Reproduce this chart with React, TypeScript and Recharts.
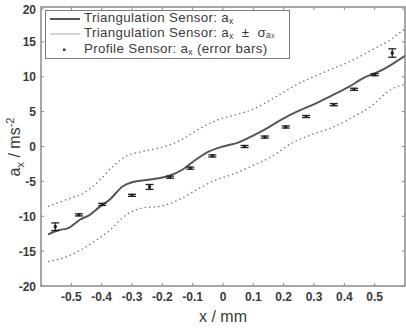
import React from 'react';
import { ComposedChart, Line, Scatter, ErrorBar, XAxis, YAxis, Legend, ReferenceArea } from 'recharts';

// Triangulation sensor mean a_x
const meanX = [-0.577, -0.543, -0.51, -0.472, -0.439, -0.411, -0.373, -0.33, -0.297, -0.253, -0.22, -0.177, -0.133, -0.09, -0.046, 0, 0.052, 0.096, 0.14, 0.194, 0.249, 0.303, 0.358, 0.413, 0.467, 0.522, 0.6];
const meanY = [-12.6, -12.0, -11.7, -10.5, -9.8, -8.8, -7.6, -5.7, -5.1, -4.8, -4.6, -4.2, -3.3, -1.9, -0.7, 0, 0.6, 1.5, 2.5, 3.9, 5.1, 6.1, 7.3, 8.5, 9.9, 10.9, 13.0];

// Triangulation sensor mean + sigma
const upperX = [-0.577, -0.515, -0.46, -0.406, -0.362, -0.319, -0.264, -0.21, -0.144, -0.079, -0.024, 0.031, 0.096, 0.162, 0.227, 0.293, 0.358, 0.424, 0.489, 0.555, 0.6];
const upperY = [-8.6, -7.6, -6.7, -4.8, -2.8, -1.4, -0.7, -0.2, 0.8, 2.5, 3.7, 4.4, 5.3, 6.8, 8.5, 9.9, 11.1, 12.3, 13.8, 15.4, 16.9];

// Triangulation sensor mean - sigma
const lowerX = [-0.577, -0.515, -0.472, -0.417, -0.373, -0.319, -0.264, -0.21, -0.144, -0.079, -0.024, 0.031, 0.096, 0.162, 0.227, 0.293, 0.358, 0.424, 0.489, 0.555, 0.6];
const lowerY = [-16.5, -15.8, -14.9, -13.4, -12.0, -9.8, -8.8, -8.6, -7.6, -6.0, -4.8, -4.0, -2.8, -1.4, 0.5, 1.7, 2.7, 4.1, 5.8, 8.2, 8.9];

// Profile sensor points with error bars
const profX = [-0.553, -0.475, -0.398, -0.3, -0.242, -0.175, -0.108, -0.035, 0.071, 0.138, 0.207, 0.274, 0.365, 0.432, 0.5, 0.558];
const profY = [-11.5, -9.8, -8.3, -7.0, -5.8, -4.4, -3.1, -1.35, 0.0, 1.35, 2.8, 4.3, 6.0, 8.2, 10.3, 13.4];
const profErr = [0.55, 0.15, 0.15, 0.15, 0.35, 0.15, 0.15, 0.15, 0.15, 0.15, 0.15, 0.15, 0.15, 0.15, 0.15, 0.6];

const xTicks = [-0.5, -0.4, -0.3, -0.2, -0.1, 0, 0.1, 0.2, 0.3, 0.4, 0.5];
const yTicks = [-20, -15, -10, -5, 0, 5, 10, 15, 20];

const meanData = meanX.map((x, i) => ({ x, y: meanY[i] }));
const upperData = upperX.map((x, i) => ({ x, y: upperY[i] }));
const lowerData = lowerX.map((x, i) => ({ x, y: lowerY[i] }));
const profData = profX.map((x, i) => ({ x, y: profY[i], err: profErr[i] }));

const W = 406;
const H = 329;
const PLOT_TOP = 7;
const PLOT_BOTTOM = 286;
const PLOT_LEFT = 41;
const PLOT_RIGHT = 405;
const FONT = 'Arial, "Liberation Sans", sans-serif';
const FRAME = '#8a8a8a';
const TEXT = '#3a3a3a';

const XTick = (props: any) => {
  const { x, payload } = props;
  const label = payload.value === 0 ? '0' : String(payload.value);
  return (
    <g>
      <line x1={x} x2={x} y1={PLOT_BOTTOM} y2={PLOT_BOTTOM - 3} stroke={FRAME} strokeWidth={1} />
      <line x1={x} x2={x} y1={PLOT_TOP} y2={PLOT_TOP + 3} stroke={FRAME} strokeWidth={1} />
      <text x={x} y={301} textAnchor="middle" fontFamily={FONT} fontSize={12} fontWeight="bold" fill={TEXT}>{label}</text>
    </g>
  );
};

const YTick = (props: any) => {
  const { y, payload } = props;
  return (
    <g>
      <line x1={PLOT_LEFT} x2={PLOT_LEFT + 3} y1={y} y2={y} stroke={FRAME} strokeWidth={1} />
      <line x1={PLOT_RIGHT} x2={PLOT_RIGHT - 3} y1={y} y2={y} stroke={FRAME} strokeWidth={1} />
      <text x={36} y={y + 4.5} textAnchor="end" fontFamily={FONT} fontSize={12} fontWeight="bold" fill={TEXT}>{payload.value}</text>
    </g>
  );
};

const YLabel = () => (
  <text transform={`translate(20, 147) rotate(-90)`} textAnchor="middle" fontFamily={FONT} fontSize={16} fill={TEXT}>
    a<tspan fontSize={11} dy={4}>x</tspan><tspan dy={-4}> / ms</tspan><tspan fontSize={11} dy={-6}>-2</tspan>
  </text>
);

const XLabel = () => (
  <text x={223} y={322} textAnchor="middle" fontFamily={FONT} fontSize={16} fill={TEXT}>x / mm</text>
);

const Dot = (props: any) => {
  const { cx, cy } = props;
  return <rect x={cx - 1.5} y={cy - 1.5} width={3} height={3} fill="#222" />;
};

const LegendBox = () => {
  const row: React.CSSProperties = { display: 'flex', alignItems: 'center', height: 15.5, whiteSpace: 'nowrap' };
  const sub: React.CSSProperties = { fontSize: 8.5, verticalAlign: -1.5 };
  return (
    <div style={{ boxSizing: 'border-box', width: 245, border: '1.5px solid #7a7a7a', background: '#fff', padding: '0px 4px 0px 4px', fontFamily: FONT, fontSize: 13.3, letterSpacing: 0.35, color: TEXT, lineHeight: '14px' }}>
      <div style={row}>
        <svg width={34} height={10}><line x1={0} x2={30} y1={5} y2={5} stroke="#555" strokeWidth={2} /></svg>
        <span>Triangulation Sensor: a<span style={sub}>x</span></span>
      </div>
      <div style={row}>
        <svg width={34} height={10}><line x1={0} x2={30} y1={5} y2={5} stroke="#aaa" strokeWidth={1} /></svg>
        <span>Triangulation Sensor: a<span style={sub}>x</span> &nbsp;±&nbsp; σ<span style={sub}>a<span style={{ fontSize: 6.5 }}>x</span></span></span>
      </div>
      <div style={row}>
        <svg width={34} height={10}><rect x={13} y={3.5} width={2.5} height={2.5} fill="#333" /></svg>
        <span>Profile Sensor: a<span style={sub}>x</span> (error bars)</span>
      </div>
    </div>
  );
};

export default function App() {
  return (
    <div style={{ position: 'absolute', left: 0, top: 0, width: W, height: H, background: '#fff' }}>
      <ComposedChart width={W} height={H} margin={{ top: PLOT_TOP, right: W - PLOT_RIGHT, bottom: 0, left: 0 }}>
        <XAxis type="number" dataKey="x" domain={[-0.6, 0.6]} ticks={xTicks} allowDataOverflow
          height={H - PLOT_BOTTOM} tick={<XTick />} tickLine={false} axisLine={false}
          label={<XLabel />} />
        <YAxis type="number" dataKey="y" domain={[-20, 20]} ticks={yTicks} allowDataOverflow
          width={PLOT_LEFT} tick={<YTick />} tickLine={false} axisLine={false} label={<YLabel />} />
        <ReferenceArea x1={-0.6} x2={0.6} y1={-20} y2={20} fill="none" stroke={FRAME} strokeWidth={1.5} ifOverflow="visible" />
        <Line data={upperData} dataKey="y" type="monotone" stroke="#777" strokeWidth={1.3} strokeDasharray="1.5 3" dot={false} isAnimationActive={false} />
        <Line data={lowerData} dataKey="y" type="monotone" stroke="#777" strokeWidth={1.3} strokeDasharray="1.5 3" dot={false} isAnimationActive={false} />
        <Line data={meanData} dataKey="y" type="monotone" stroke="#555" strokeWidth={2} dot={false} isAnimationActive={false} />
        <Scatter data={profData} dataKey="y" shape={<Dot />} isAnimationActive={false}>
          <ErrorBar dataKey="err" direction="y" width={4} stroke="#222" strokeWidth={1.3} isAnimationActive={false} />
        </Scatter>
        <Legend layout="horizontal" verticalAlign="middle" content={<LegendBox />}
          wrapperStyle={{ position: 'absolute', left: 45, top: 10, width: 'auto', height: 'auto' }} />
      </ComposedChart>
    </div>
  );
}
